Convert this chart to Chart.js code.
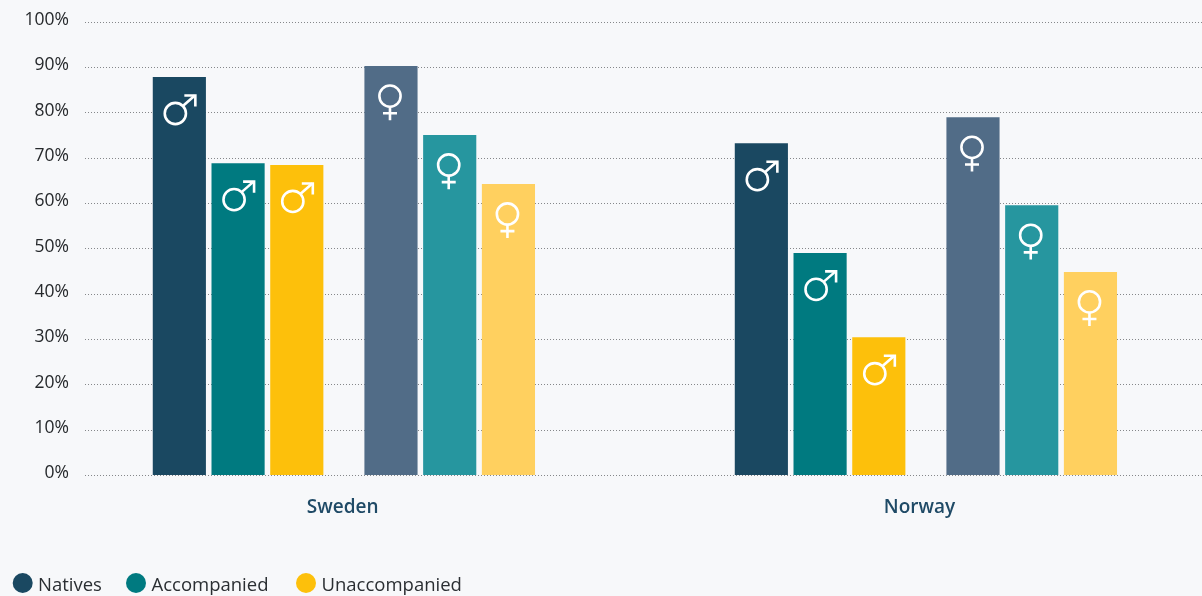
<!DOCTYPE html>
<html><head><meta charset="utf-8">
<style>
html,body{margin:0;padding:0;background:#f7f8fa;}
#w{position:relative;width:1202px;height:596px;overflow:hidden;}
canvas{position:absolute;left:0;top:0;}
</style>
<script src="https://cdn.jsdelivr.net/npm/chart.js@4"></script>
</head><body><div id="w"><canvas id="c" width="1202" height="596"></canvas></div>
<script>
const categories=["Sweden","Norway"];
const tickLabels=["0%","10%","20%","30%","40%","50%","60%","70%","80%","90%","100%"];
const legendLabels=["Natives","Accompanied","Unaccompanied"];
const legendColors=["#1a4861","#007a80","#fdc00b"];
const femaleColors=["#516c87","#26969f","#ffd05f"];
const nativesMale=[87.8,73.2];
const accompaniedMale=[68.8,49.0];
const unaccompaniedMale=[68.4,30.4];
const nativesFemale=[90.2,78.9];
const accompaniedFemale=[75.0,59.5];
const unaccompaniedFemale=[64.2,44.8];
const maleValues=[nativesMale,accompaniedMale,unaccompaniedMale];
const femaleValues=[nativesFemale,accompaniedFemale,unaccompaniedFemale];
// Category axis slots: which country/sex sits on which slot (the rest stay empty, as gaps).
const slotCountry=[null,null,0,null,null,null,0,null,null,null,null,null,null,1,null,null,null,1,null,null];
const slotSex=[null,null,"m",null,null,null,"f",null,null,null,null,null,null,"m",null,null,null,"f",null,null];
const labelSlots=[4,15];
const labelNudge=[-1.2,-6.4];

const slotLabels=slotCountry.map((c,i)=>c===null?"":categories[c]+" "+slotSex[i]);
const datasets=legendLabels.map((name,s)=>({
  label:name,
  data:slotCountry.map((c,i)=>c===null?null:(slotSex[i]==="m"?maleValues:femaleValues)[s][c]),
  backgroundColor:slotSex.map(x=>x==="f"?femaleColors[s]:legendColors[s]),
  categoryPercentage:3.33,barPercentage:0.905,borderWidth:0
}));

const glyphs={id:'glyphs',afterDatasetsDraw(ch){
  const c=ch.ctx;
  ch.data.datasets.forEach((d,i)=>{
    ch.getDatasetMeta(i).data.forEach((el,k)=>{
      if(slotCountry[k]===null)return;
      c.save();c.strokeStyle="#fff";c.lineWidth=2.6;c.lineCap="butt";c.lineJoin="miter";
      if(slotSex[k]==="m"){
        const x=el.x-4,y=el.y+36.5,r=10.6;
        c.beginPath();c.arc(x,y,r,0,Math.PI*2);c.stroke();
        c.beginPath();c.moveTo(x+7.5,y-7.5);c.lineTo(x+19.5,y-18);c.stroke();
        c.beginPath();c.moveTo(x+9,y-18);c.lineTo(x+20,y-18);c.lineTo(x+20,y-7);c.stroke();
      }else{
        const x=el.x-1,y=el.y+30,r=10.6;
        c.beginPath();c.arc(x,y,r,0,Math.PI*2);c.stroke();
        c.beginPath();c.moveTo(x,y+r);c.lineTo(x,y+r+13.5);c.moveTo(x-7,y+r+6.5);c.lineTo(x+7,y+r+6.5);c.stroke();
      }
      c.restore();
    });
  });
}};
const dotGrid={id:'dotGrid',beforeDatasetsDraw(ch){
  const c=ch.ctx,y=ch.scales.y;
  c.save();c.strokeStyle="#85878a";c.lineWidth=1;c.setLineDash([1,2]);
  y.ticks.forEach(t=>{const p=Math.round(y.getPixelForValue(t.value))+.5;
    c.beginPath();c.moveTo(85,p);c.lineTo(1202,p);c.stroke();});
  c.restore();
}};
const textDraw={id:'textDraw',afterDraw(ch){
  const c=ch.ctx,xs=[[22.7,38.5],[136,152],[306,322]];
  c.save();
  c.textBaseline='middle';c.textAlign='center';c.fillStyle="#1f4a66";
  c.font='600 19px "Open Sans"';
  categories.forEach((l,i)=>c.fillText(l,ch.scales.x.getPixelForValue(labelSlots[i])+labelNudge[i],507.5));
  c.font='18.5px "Open Sans"';c.textAlign='left';
  legendLabels.forEach((l,i)=>{
    c.fillStyle=legendColors[i];c.beginPath();c.arc(xs[i][0],583,10,0,Math.PI*2);c.fill();
    c.fillStyle="#2a2e32";c.fillText(l,xs[i][1]-0.5,585.5);
  });
  c.restore();
}};
new Chart(document.getElementById('c'),{
  type:'bar',
  data:{labels:slotLabels,datasets},
  plugins:[dotGrid,glyphs,textDraw],
  options:{responsive:false,animation:false,
    layout:{autoPadding:false,padding:{left:0,right:38,top:21.7,bottom:0}},
    plugins:{legend:{display:false},tooltip:{enabled:false}},
    scales:{
      x:{grid:{display:false},border:{display:false},ticks:{display:false},afterFit(s){s.height=121;}},
      y:{min:0,max:100,grid:{display:false,tickLength:36.8},border:{display:false},
        afterFit(s){s.width=105.8;},
        ticks:{stepSize:10,padding:0,labelOffset:-1.8,color:"#26292c",font:{family:'"Open Sans"',size:17.5},callback:(v)=>tickLabels[v/10]}}
    }
  }
});
</script></body></html>
